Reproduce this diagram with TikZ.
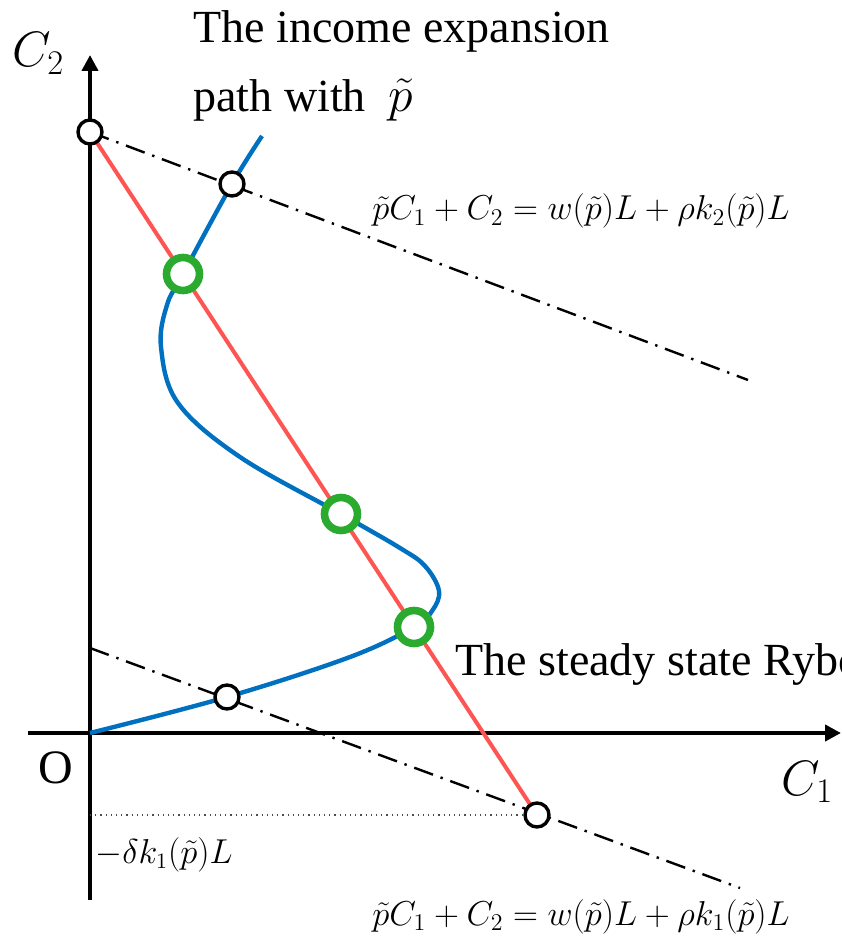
\documentclass[tikz,border=0pt]{standalone}
\usepackage{fontspec}
\setmainfont{Liberation Serif}
\usetikzlibrary{arrows.meta, positioning}
\definecolor{lineRed}{HTML}{FF5552}
\definecolor{pathBlue}{HTML}{0070C0}
\definecolor{pointGreen}{HTML}{2AAA2E}

\begin{document}
\begin{tikzpicture}[x=0.5pt, y=-0.5pt,
        axis/.style={line width=2pt, -{Triangle[length=8pt,width=8pt]}},
        budget/.style={line width=1.2pt, dash pattern=on 10pt off 4pt on 1.2pt off 4pt},
        hole/.style={circle, draw=black, fill=white, line width=1.7pt, inner sep=0pt, minimum size=12pt},
        equil/.style={circle, draw=pointGreen, fill=white, line width=3.8pt, inner sep=0pt, minimum size=16.5pt},
        lbl/.style={inner sep=0pt, anchor=base west},
        eqn/.style={lbl, font=\fontsize{17}{20}\selectfont}
    ]
        \useasboundingbox (0,0) rectangle (841,936);
        \coordinate (o) at (90,733);
        \coordinate (yBot) at (90,900);
        \coordinate (yTop) at (90,55);
        \coordinate (xLeft) at (28,733);
        \coordinate (xRight) at (841,733);
        \coordinate (topB) at (90,132);
        \coordinate (endB) at (748,380);
        \coordinate (lowB) at (90,648);
        \coordinate (endL) at (740,888);
        \coordinate (cornerR) at (537,815);
        \coordinate (cutK) at (90,815);
        % axes
        \draw[axis] (yBot) -- (yTop);
        \draw[axis] (xLeft) -- (xRight);
        % budget lines
        \draw[budget] (topB) -- (endB);
        \draw[budget] (lowB) -- (endL);
        \draw[black!70, line width=0.6pt, dotted] (cutK) -- (cornerR);
        \draw[lineRed, line width=2pt] (topB) -- (cornerR);
        % income expansion path
        \draw[pathBlue, line width=2.2pt] plot[smooth, tension=0.6] coordinates {
            (90,733) (227,697) (350,657) (414,627) (432,611) (439,591)
            (425,566) (400,548) (341,514) (240,457) (178,403) (161,347) (167,305)
            (183,274) (232,184) (262,136)};
        % points
        \node[hole] (pA) at (topB) {};
        \node[hole] (pB) at (232,184) {};
        \node[hole] (pC) at (227,697) {};
        \node[hole] (pD) at (cornerR) {};
        \node[equil] (eA) at (183,274) {};
        \node[equil] (eB) at (341,514) {};
        \node[equil] (eC) at (414,627) {};
        % labels
        \node[lbl, font=\fontsize{26}{30}\selectfont] (labC2) at (12,67) {$C_2$};
        \node[lbl, font=\fontsize{26}{30}\selectfont] (labC1) at (781,795) {$C_1$};
        \node[lbl, font=\fontsize{24}{28}\selectfont] (labO) at (38,783) {O};
        \node[lbl, font=\fontsize{23}{28}\selectfont] (inc1) at (193,43) {The income expansion};
        \node[lbl, font=\fontsize{23}{28}\selectfont] (inc2) at (193,112) {path with ~$\tilde{p}$};
        \node[lbl, font=\fontsize{23}{28}\selectfont] (ryb) at (455,675) {The steady state Rybczynski line};
        \node[eqn] (eqTop) at (372,220) {$\tilde{p}C_1+C_2=w(\tilde{p})L+\rho k_2(\tilde{p})L$};
        \node[eqn] (eqLow) at (372,925) {$\tilde{p}C_1+C_2=w(\tilde{p})L+\rho k_1(\tilde{p})L$};
        \node[lbl, font=\fontsize{16}{20}\selectfont] (labK) at (95,863) {$-\delta k_1(\tilde{p})L$};
    \end{tikzpicture}
\end{document}
